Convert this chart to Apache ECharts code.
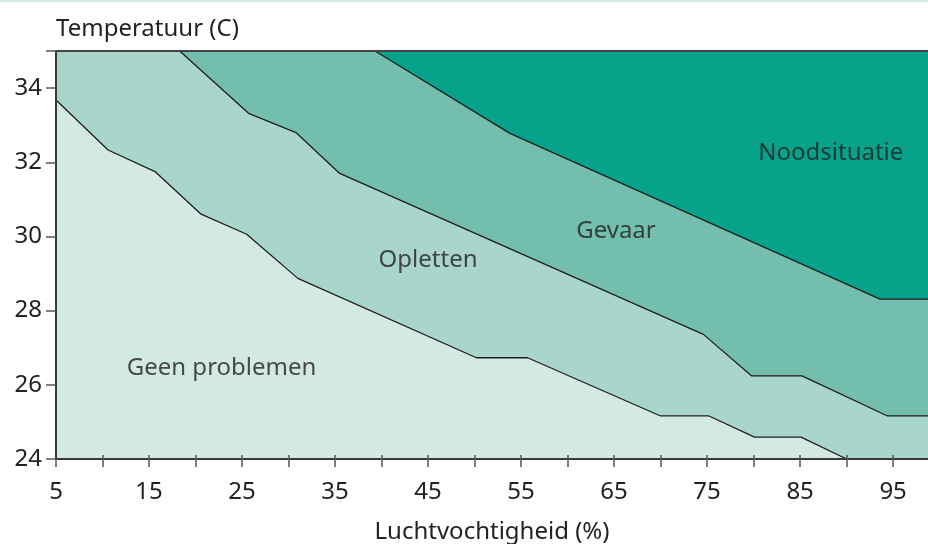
<!DOCTYPE html>
<html>
<head>
<meta charset="utf-8">
<script src="https://cdn.jsdelivr.net/npm/echarts@6/dist/echarts.min.js"></script>
<style>
  html, body { margin: 0; padding: 0; background: #fff; }
  #chart { width: 928px; height: 544px; }
</style>
</head>
<body>
<div id="chart"></div>
<script>
// boundary lines: [humidity %, temperature C]
const geenLine = [[5, 33.68], [10.6, 32.33], [15.7, 31.74], [20.6, 30.6], [25.5, 30.06], [31, 28.87],
  [50.2, 26.73], [55.7, 26.73], [70, 25.16], [75.2, 25.16], [80.1, 24.59], [85.1, 24.59], [90, 24]];
const oplettenLine = [[5, 35], [18.3, 35], [25.7, 33.32], [30.8, 32.8], [35.5, 31.7], [74.6, 27.36],
  [79.8, 26.24], [85.2, 26.24], [94.4, 25.16], [100, 25.16]];
const gevaarLine = [[5, 35], [39.3, 35], [53.8, 32.78], [93.6, 28.31], [100, 28.31]];

const zoneNames = ["Geen problemen", "Opletten", "Gevaar", "Noodsituatie"];
const zoneLabelPos = [[22.8, 26.44], [45, 29.36], [65.2, 30.14], [88.3, 32.25]];
const zoneColors = ["#d3e9e3", "#a9d5ca", "#74bead", "#06a38a"];

const xTicks = [5, 10, 15, 20, 25, 30, 35, 40, 45, 50, 55, 60, 65, 70, 75, 80, 85, 90, 95];
const xLabels = [5, 15, 25, 35, 45, 55, 65, 75, 85, 95];
const yTicks = [24, 26, 28, 30, 32, 34, 35];
const yLabels = [24, 26, 28, 30, 32, 34];

const font = "'Noto Sans', sans-serif";
const textColor = "#222";

let chart = echarts.init(document.getElementById("chart"));

function zoneSeries(data, color) {
  return {
    type: "line",
    data: data,
    symbol: "none",
    clip: true,
    lineStyle: { color: "#1e1e1e", width: 1.3 },
    areaStyle: { color: color, opacity: 1, origin: "start" },
    silent: true
  };
}

let option = {
  animation: false,
  grid: {
    left: 56, right: 0, top: 51, bottom: 85,
    outerBoundsMode: "none",
    containLabel: false,
    show: true,
    backgroundColor: zoneColors[3],
    borderWidth: 0
  },
  graphic: [{
    type: "rect",
    shape: { x: 0, y: 0, width: 928, height: 2 },
    style: { fill: "#d3ebe4" }
  }],
  xAxis: [
    {
      type: "value",
      min: 5, max: 98.75, interval: 5,
      name: "Luchtvochtigheid (%)",
      nameLocation: "middle",
      nameGap: 61,
      nameTextStyle: { fontFamily: font, fontSize: 24, color: textColor },
      axisLine: { show: true, lineStyle: { color: "#3a3a3a", width: 2 } },
      axisTick: { show: true, inside: false, length: 8, customValues: xTicks, lineStyle: { color: "#555", width: 1.5 } },
      axisLabel: { customValues: xLabels, margin: 21, fontFamily: font, fontSize: 24, color: textColor },
      splitLine: { show: false },
      z: 10
    },
    {
      type: "value",
      position: "bottom",
      min: 5, max: 98.75, interval: 5,
      axisLine: { show: false },
      axisTick: { show: true, inside: true, length: 4, customValues: xTicks.slice(1), lineStyle: { color: "#555", width: 1.5 } },
      axisLabel: { show: false },
      splitLine: { show: false },
      z: 10
    },
    {
      type: "value",
      position: "top",
      min: 5, max: 98.75,
      axisLine: { show: true, lineStyle: { color: "#444", width: 2 } },
      axisTick: { show: false },
      axisLabel: { show: false },
      splitLine: { show: false },
      z: 10
    }
  ],
  yAxis: {
    type: "value",
    min: 24, max: 35, interval: 2,
    name: "Temperatuur (C)",
    nameLocation: "end",
    nameGap: 10,
    nameTextStyle: { fontFamily: font, fontSize: 24, color: textColor, align: "left", verticalAlign: "bottom" },
    axisLine: { show: true, lineStyle: { color: "#3a3a3a", width: 2 } },
    axisTick: { show: true, length: 10, customValues: yTicks, lineStyle: { color: "#555", width: 1.5 } },
    axisLabel: { customValues: yLabels, margin: 14, fontFamily: font, fontSize: 24, color: textColor },
    splitLine: { show: false },
    z: 10
  },
  series: [
    zoneSeries(gevaarLine, zoneColors[2]),
    zoneSeries(oplettenLine, zoneColors[1]),
    zoneSeries(geenLine, zoneColors[0]),
    {
      type: "scatter",
      symbolSize: 0,
      silent: true,
      data: zoneNames.map((n, i) => ({ name: n, value: zoneLabelPos[i] })),
      label: {
        show: true,
        position: "inside",
        formatter: p => p.name,
        fontFamily: font,
        fontSize: 24,
        color: textColor,
        textBorderWidth: 0
      },
      z: 5
    }
  ]
};

chart.setOption(option);
</script>
</body>
</html>
